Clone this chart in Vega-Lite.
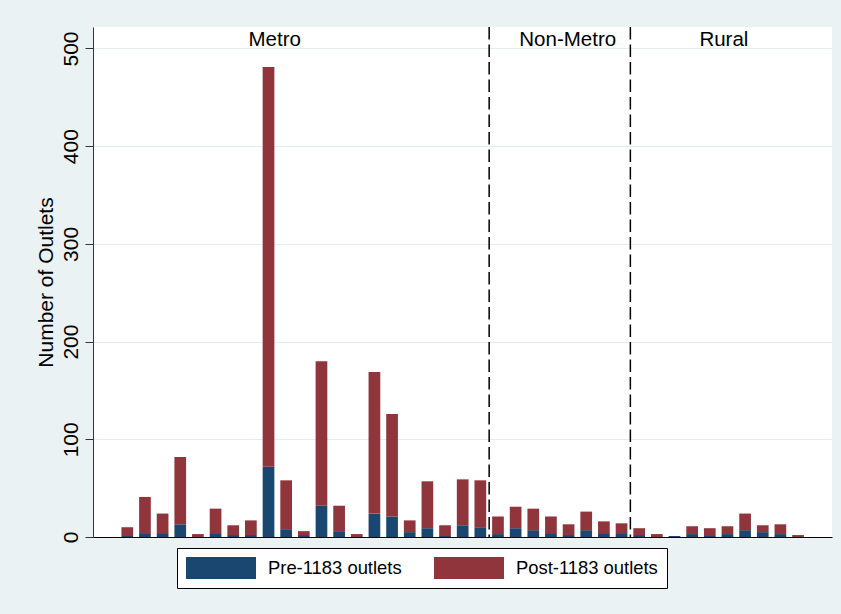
{
  "$schema": "https://vega.github.io/schema/vega-lite/v6.json",
  "width": 739,
  "height": 510,
  "autosize": {"type": "none"},
  "padding": {"left": 93, "top": 27, "right": 9, "bottom": 77},
  "background": "#EAF2F3",
  "config": {
    "view": {"fill": "white", "stroke": null},
    "font": "Liberation Sans"
  },
  "datasets": {
    "bars": [
      {"pos": 1, "Pre-1183 outlets": 1, "Post-1183 outlets": 9},
      {"pos": 2, "Pre-1183 outlets": 4, "Post-1183 outlets": 37},
      {"pos": 3, "Pre-1183 outlets": 4, "Post-1183 outlets": 20},
      {"pos": 4, "Pre-1183 outlets": 13, "Post-1183 outlets": 69},
      {"pos": 5, "Pre-1183 outlets": 0, "Post-1183 outlets": 3},
      {"pos": 6, "Pre-1183 outlets": 4, "Post-1183 outlets": 25},
      {"pos": 7, "Pre-1183 outlets": 2, "Post-1183 outlets": 10},
      {"pos": 8, "Pre-1183 outlets": 2, "Post-1183 outlets": 15},
      {"pos": 9, "Pre-1183 outlets": 72, "Post-1183 outlets": 409},
      {"pos": 10, "Pre-1183 outlets": 8, "Post-1183 outlets": 50},
      {"pos": 11, "Pre-1183 outlets": 2, "Post-1183 outlets": 4},
      {"pos": 12, "Pre-1183 outlets": 32, "Post-1183 outlets": 148},
      {"pos": 13, "Pre-1183 outlets": 6, "Post-1183 outlets": 26},
      {"pos": 14, "Pre-1183 outlets": 0, "Post-1183 outlets": 3},
      {"pos": 15, "Pre-1183 outlets": 24, "Post-1183 outlets": 145},
      {"pos": 16, "Pre-1183 outlets": 21, "Post-1183 outlets": 105},
      {"pos": 17, "Pre-1183 outlets": 5, "Post-1183 outlets": 12},
      {"pos": 18, "Pre-1183 outlets": 9, "Post-1183 outlets": 48},
      {"pos": 19, "Pre-1183 outlets": 1, "Post-1183 outlets": 11},
      {"pos": 20, "Pre-1183 outlets": 12, "Post-1183 outlets": 47},
      {"pos": 21, "Pre-1183 outlets": 10, "Post-1183 outlets": 48},
      {"pos": 22, "Pre-1183 outlets": 3, "Post-1183 outlets": 18},
      {"pos": 23, "Pre-1183 outlets": 9, "Post-1183 outlets": 22},
      {"pos": 24, "Pre-1183 outlets": 7, "Post-1183 outlets": 22},
      {"pos": 25, "Pre-1183 outlets": 4, "Post-1183 outlets": 17},
      {"pos": 26, "Pre-1183 outlets": 2, "Post-1183 outlets": 11},
      {"pos": 27, "Pre-1183 outlets": 7, "Post-1183 outlets": 19},
      {"pos": 28, "Pre-1183 outlets": 4, "Post-1183 outlets": 12},
      {"pos": 29, "Pre-1183 outlets": 4, "Post-1183 outlets": 10},
      {"pos": 30, "Pre-1183 outlets": 2, "Post-1183 outlets": 7},
      {"pos": 31, "Pre-1183 outlets": 0, "Post-1183 outlets": 3},
      {"pos": 32, "Pre-1183 outlets": 1, "Post-1183 outlets": 0},
      {"pos": 33, "Pre-1183 outlets": 3, "Post-1183 outlets": 8},
      {"pos": 34, "Pre-1183 outlets": 1, "Post-1183 outlets": 8},
      {"pos": 35, "Pre-1183 outlets": 3, "Post-1183 outlets": 8},
      {"pos": 36, "Pre-1183 outlets": 7, "Post-1183 outlets": 17},
      {"pos": 37, "Pre-1183 outlets": 5, "Post-1183 outlets": 7},
      {"pos": 38, "Pre-1183 outlets": 3, "Post-1183 outlets": 10},
      {"pos": 39, "Pre-1183 outlets": 0, "Post-1183 outlets": 2}
    ],
    "dividers": [{"pos": 21.5}, {"pos": 29.5}],
    "regions": [
      {"label": "Metro", "pos": 9.35, "n": 509},
      {"label": "Non-Metro", "pos": 25.95, "n": 509},
      {"label": "Rural", "pos": 34.8, "n": 509}
    ]
  },
  "layer": [
    {
      "data": {"name": "bars"},
      "transform": [
        {"fold": ["Pre-1183 outlets", "Post-1183 outlets"], "as": ["type", "n"]}
      ],
      "mark": {"type": "bar", "width": 11.7, "strokeWidth": 0},
      "encoding": {
        "x": {
          "field": "pos", "type": "quantitative",
          "scale": {"domain": [-0.66, 40.64], "nice": false, "zero": false},
          "axis": {"labels": false, "ticks": false, "grid": false, "title": null, "domainColor": "#000000", "domainWidth": 1}
        },
        "y": {
          "field": "n", "type": "quantitative", "stack": "zero",
          "scale": {"domain": [0, 522], "nice": false},
          "axis": {
            "title": "Number of Outlets",
            "values": [0, 100, 200, 300, 400, 500],
            "labelAngle": -90,
            "labelAlign": "center",
            "labelBaseline": "bottom",
            "labelFontSize": 21,
            "labelColor": "#000000",
            "labelPadding": 4,
            "tickSize": 8,
            "tickColor": "#333333",
            "domainColor": "#333333",
            "grid": true,
            "gridColor": "#E3ECEF",
            "gridWidth": 1,
            "titleFontSize": 21,
            "titleFontWeight": "normal",
            "titleColor": "#000000",
            "titleAngle": -90,
            "titleX": -47,
            "titleY": 255,
            "titleAlign": "center",
            "titleBaseline": "middle"
          }
        },
        "color": {
          "field": "type", "type": "nominal",
          "scale": {"domain": ["Pre-1183 outlets", "Post-1183 outlets"], "range": ["#1A476F", "#90353B"]},
          "legend": {
            "title": null,
            "orient": "none",
            "legendX": 84,
            "legendY": 521,
            "direction": "horizontal",
            "strokeColor": "#000000",
            "fillColor": "#FFFFFF",
            "padding": 9,
            "symbolType": "M-3.1818,-1H3.1818V1H-3.1818Z",
            "symbolSize": 484,
            "symbolOffset": 24,
            "symbolStrokeWidth": 0,
            "symbolOpacity": 1,
            "labelFontSize": 18.4,
            "labelColor": "#000000",
            "labelOffset": 36,
            "columnPadding": 32,
            "labelLimit": 300
          }
        },
        "order": {"field": "type", "sort": "descending"}
      }
    },
    {
      "data": {"name": "dividers"},
      "mark": {"type": "rule", "color": "#000000", "strokeWidth": 1.5, "strokeDash": [12.5, 5]},
      "encoding": {
        "x": {"field": "pos", "type": "quantitative"}
      }
    },
    {
      "data": {"name": "regions"},
      "mark": {"type": "text", "fontSize": 20.5, "color": "#000000", "baseline": "middle", "align": "center"},
      "encoding": {
        "x": {"field": "pos", "type": "quantitative"},
        "y": {"field": "n", "type": "quantitative"},
        "text": {"field": "label"}
      }
    }
  ]
}
